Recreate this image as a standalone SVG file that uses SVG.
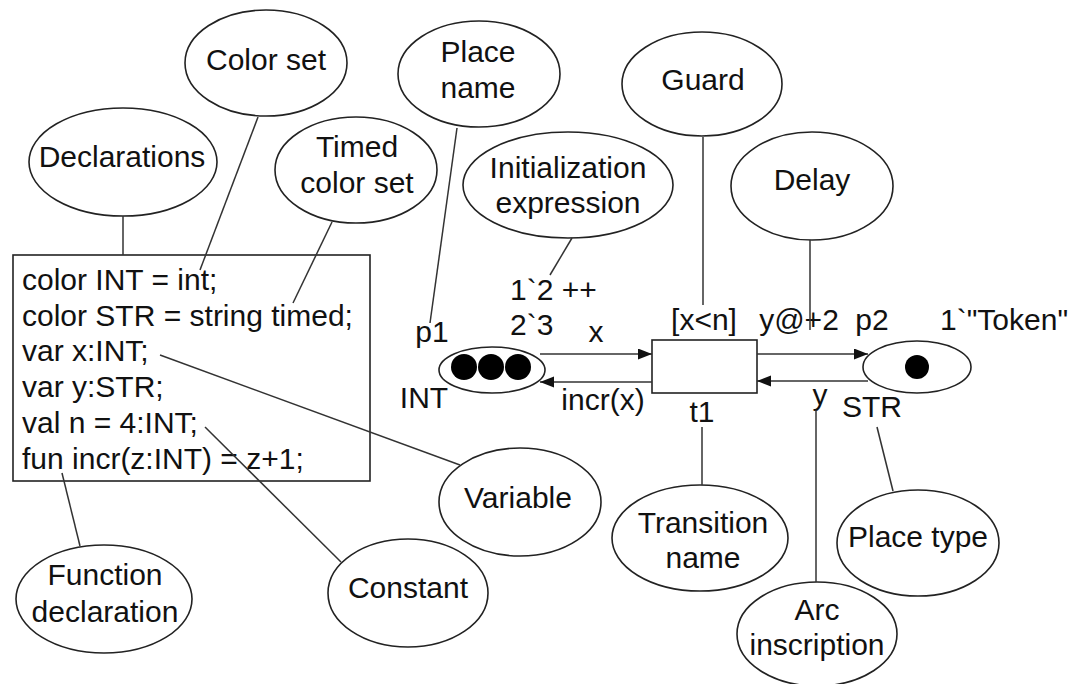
<svg xmlns="http://www.w3.org/2000/svg" width="1077" height="684" viewBox="0 0 1077 684">
<style>
  .n { fill: #fff; stroke: #222; stroke-width: 1.6; }
  .t { font-family: "Liberation Sans", Arial, sans-serif; font-size: 30px; fill: #111; }
  .m { text-anchor: middle; }
  .c { stroke: #333; stroke-width: 1.5; fill: none; }
  .arc { stroke: #333; stroke-width: 1.6; fill: none; marker-end: url(#ah); }
  .tok { fill: #000; }
</style>
<defs>
  <marker id="ah" markerUnits="userSpaceOnUse" markerWidth="15" markerHeight="12" refX="14" refY="5.5" orient="auto">
    <path d="M0,0 L14,5.5 L0,11 z" fill="#111"/>
  </marker>
</defs>
<rect width="1077" height="684" fill="#fff"/>

<g id="color-set">
  <ellipse class="n" cx="266" cy="63" rx="81" ry="53"/>
  <text class="t m" x="266" y="70">Color set</text>
</g>
<g id="declarations">
  <ellipse class="n" cx="123" cy="162" rx="94" ry="54"/>
  <text class="t m" x="122" y="167">Declarations</text>
</g>
<g id="timed-color-set">
  <ellipse class="n" cx="356" cy="170" rx="81" ry="53"/>
  <text class="t m" x="357" y="157">Timed</text>
  <text class="t m" x="357" y="193">color set</text>
</g>
<g id="place-name">
  <ellipse class="n" cx="479" cy="74" rx="81" ry="53"/>
  <text class="t m" x="478" y="62">Place</text>
  <text class="t m" x="478" y="98">name</text>
</g>
<g id="init-expr">
  <ellipse class="n" cx="568" cy="185" rx="105" ry="53"/>
  <text class="t m" x="568" y="178">Initialization</text>
  <text class="t m" x="568" y="213">expression</text>
</g>
<g id="guard">
  <ellipse class="n" cx="702" cy="84" rx="80" ry="52"/>
  <text class="t m" x="703" y="90">Guard</text>
</g>
<g id="delay">
  <ellipse class="n" cx="812" cy="186" rx="81" ry="54"/>
  <text class="t m" x="812" y="190">Delay</text>
</g>

<g id="declarations-box">
  <rect class="n" x="13" y="255" width="357" height="226"/>
  <text class="t" x="22" y="290">color INT = int;</text>
  <text class="t" x="22" y="326">color STR = string timed;</text>
  <text class="t" x="22" y="361">var x:INT;</text>
  <text class="t" x="22" y="397">var y:STR;</text>
  <text class="t" x="22" y="433">val n = 4:INT;</text>
  <text class="t" x="22" y="469">fun incr(z:INT) = z+1;</text>
</g>

<g id="p1">
  <ellipse class="n" cx="492" cy="370" rx="53" ry="23"/>
  <circle class="tok" cx="464" cy="367" r="13"/>
  <circle class="tok" cx="491" cy="367" r="13"/>
  <circle class="tok" cx="518" cy="367" r="13"/>
  <text class="t m" x="432" y="342">p1</text>
  <text class="t m" x="424" y="408">INT</text>
  <text class="t" x="510" y="300">1`2 ++</text>
  <text class="t" x="510" y="335">2`3</text>
</g>
<g id="t1">
  <rect class="n" x="652" y="340" width="105" height="53"/>
  <text class="t m" x="704" y="330">[x&lt;n]</text>
  <text class="t m" x="702" y="422">t1</text>
</g>
<g id="p2">
  <ellipse class="n" cx="917" cy="367" rx="54" ry="26"/>
  <circle class="tok" cx="917" cy="367" r="12"/>
  <text class="t m" x="872" y="330">p2</text>
  <text class="t" x="940" y="330">1`"Token"</text>
  <text class="t m" x="872" y="417">STR</text>
</g>
<g id="arc-labels">
  <text class="t m" x="596" y="342">x</text>
  <text class="t m" x="603" y="410">incr(x)</text>
  <text class="t m" x="799" y="330">y@+2</text>
  <text class="t m" x="820" y="405">y</text>
</g>

<g id="variable">
  <ellipse class="n" cx="520" cy="502" rx="81" ry="54"/>
  <text class="t m" x="518" y="508">Variable</text>
</g>
<g id="constant">
  <ellipse class="n" cx="408" cy="593" rx="80" ry="54"/>
  <text class="t m" x="408" y="598">Constant</text>
</g>
<g id="function-declaration">
  <ellipse class="n" cx="104" cy="599" rx="88" ry="54"/>
  <text class="t m" x="105" y="585">Function</text>
  <text class="t m" x="105" y="622">declaration</text>
</g>
<g id="transition-name">
  <ellipse class="n" cx="700" cy="538" rx="88" ry="53"/>
  <text class="t m" x="703" y="533">Transition</text>
  <text class="t m" x="703" y="568">name</text>
</g>
<g id="place-type">
  <ellipse class="n" cx="918" cy="543" rx="81" ry="53"/>
  <text class="t m" x="918" y="547">Place type</text>
</g>
<g id="arc-inscription">
  <ellipse class="n" cx="817" cy="634" rx="80" ry="52"/>
  <text class="t m" x="817" y="620">Arc</text>
  <text class="t m" x="817" y="655">inscription</text>
</g>

<g id="connectors">
  <line class="c" x1="123" y1="216" x2="123" y2="255"/>
  <line class="c" x1="258" y1="117" x2="200" y2="270"/>
  <line class="c" x1="332" y1="222" x2="293" y2="303"/>
  <line class="c" x1="457" y1="128" x2="430" y2="323"/>
  <line class="c" x1="572" y1="238" x2="550" y2="275"/>
  <line class="c" x1="703" y1="137" x2="703" y2="305"/>
  <line class="c" x1="810" y1="240" x2="810" y2="330"/>
  <line class="c" x1="160" y1="355" x2="460" y2="465"/>
  <line class="c" x1="205" y1="427" x2="341" y2="562"/>
  <line class="c" x1="62" y1="473" x2="80" y2="546"/>
  <line class="c" x1="702" y1="427" x2="702" y2="485"/>
  <line class="c" x1="816" y1="410" x2="816" y2="582"/>
  <line class="c" x1="877" y1="427" x2="893" y2="491"/>
  <line class="arc" x1="540" y1="354" x2="652" y2="354"/>
  <line class="arc" x1="652" y1="382" x2="540" y2="382"/>
  <line class="arc" x1="757" y1="354" x2="868" y2="354"/>
  <line class="arc" x1="868" y1="381" x2="757" y2="381"/>
</g>
</svg>
